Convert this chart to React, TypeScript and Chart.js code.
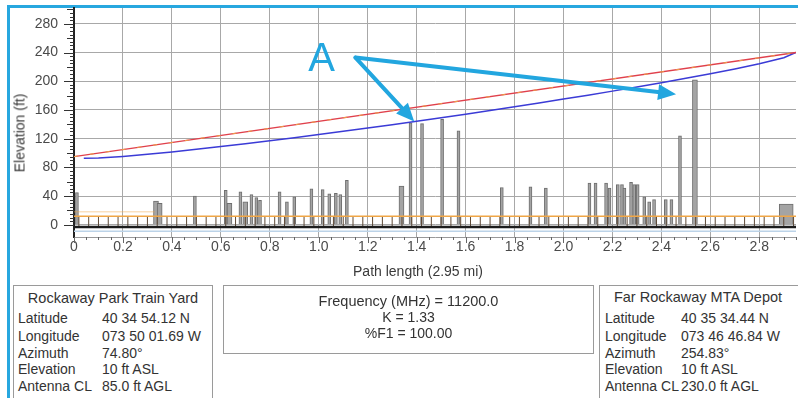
import React, { useEffect, useRef } from 'react';
import { Chart, registerables } from 'chart.js';
Chart.register(...registerables);

const FONT = '"Liberation Sans", Arial, Helvetica, sans-serif';

// axis ticks
const xTickValues = [0, 0.2, 0.4, 0.6, 0.8, 1.0, 1.2, 1.4, 1.6, 1.8, 2.0, 2.2, 2.4, 2.6, 2.8];
const yTickValues = [0, 20, 40, 60, 80, 100, 120, 140, 160, 180, 200, 220, 240, 260, 280, 300];
const yLabelValues = [0, 40, 80, 120, 160, 200, 240, 280];

// line of sight (ft)
const losX = [0, 2.95];
const losY = [95, 240];

// first Fresnel zone lower edge (ft)
const fresnelX = [0.04, 0.1, 0.2, 0.3, 0.4, 0.5, 0.6, 0.7, 0.8, 0.9, 1.0, 1.1, 1.2, 1.3, 1.4, 1.5, 1.6, 1.7, 1.8, 1.9, 2.0, 2.1, 2.2, 2.3, 2.4, 2.5, 2.6, 2.7, 2.8, 2.9, 2.95];
const fresnelY = [92.6, 93.1, 95.3, 98.2, 101.5, 105.1, 108.9, 112.9, 117.0, 121.3, 125.7, 130.2, 134.8, 139.5, 144.2, 149.1, 154.1, 159.2, 164.4, 169.7, 175.1, 180.6, 186.2, 192.0, 197.9, 204.0, 210.4, 217.1, 224.3, 232.7, 240];

// ground, clutter
const groundX = [0, 2.95];
const groundY = [-3, -3];
const subGroundY = [-9, -9];
const clutterX = [0, 2.95];
const clutterY = [12, 12];
const clutterHighX = [0, 0.33];
const clutterHighY = [18, 18];

// buildings (mi, ft)
const thinBldX = [0.012, 0.494, 0.62, 0.68, 0.725, 0.745, 0.76, 0.84, 0.87, 0.9, 0.97, 1.016, 1.043, 1.07, 1.088, 1.115, 1.375, 1.422, 1.504, 1.571, 1.748, 1.865, 1.928, 2.106, 2.131, 2.174, 2.188, 2.222, 2.239, 2.249, 2.276, 2.289, 2.303, 2.33, 2.35, 2.37, 2.418, 2.441, 2.476];
const thinBldY = [45, 40, 48, 46, 42, 38, 34, 46, 32, 39, 50, 49, 43, 44, 42, 62, 142, 141, 147, 131, 52, 53, 51, 58, 58, 58, 51, 56, 56, 51, 59, 56, 56, 39, 32, 35, 35, 35, 124];
const medBldX = [0.335, 0.35, 0.635, 0.7, 1.338, 2.537];
const medBldY = [33, 30, 30, 32, 54, 202];
const wideBldX = [2.91];
const wideBldY = [29];

// tree / clutter markers
const treeX = [0.02, 0.06, 0.10, 0.14, 0.18, 0.22, 0.26, 0.30, 0.34, 0.38, 0.42, 0.46, 0.50, 0.54, 0.58, 0.62, 0.66, 0.70, 0.74, 0.78, 0.82, 0.86, 0.90, 0.94, 0.98, 1.02, 1.06, 1.10, 1.14, 1.18, 1.22, 1.26, 1.30, 1.34, 1.38, 1.42, 1.46, 1.50, 1.54, 1.58, 1.62, 1.66, 1.70, 1.74, 1.78, 1.82, 1.86, 1.90, 1.94, 1.98, 2.02, 2.06, 2.10, 2.14, 2.18, 2.22, 2.26, 2.30, 2.34, 2.38, 2.42, 2.46, 2.50, 2.54, 2.58, 2.62, 2.66, 2.70, 2.74, 2.78, 2.82, 2.86, 2.90, 2.94];
const treeMid = 5;

// annotation "A" and arrows (data coordinates)
const annotationText = 'A';
const annotationXY = [1.012, 233];
const arrowFromXY = [1.15, 233];
const arrowToX = [1.39, 2.46];
const arrowToY = [144, 182];

const pts = (xs: number[], ys: number[]) => xs.map((x, i) => ({ x, y: ys[i] }));

const overlayPlugin = {
  id: 'overlay',
  afterDatasetsDraw(chart: any) {
    const { ctx, chartArea, scales } = chart;
    const x = scales.x;
    const y = scales.y;
    ctx.save();
    // y axis tick marks
    ctx.strokeStyle = '#333';
    ctx.lineWidth = 1;
    for (let v = 0; v <= 300; v += 5) {
      const py = Math.round(y.getPixelForValue(v)) + 0.5;
      const len = v % 40 === 0 ? 10 : v % 20 === 0 ? 7 : 4;
      ctx.beginPath();
      ctx.moveTo(chartArea.left - len, py);
      ctx.lineTo(chartArea.left, py);
      ctx.stroke();
    }
    // x axis tick marks
    ctx.strokeStyle = '#666';
    for (let i = 0; i <= 59; i++) {
      const v = i * 0.05;
      const px = Math.round(x.getPixelForValue(v)) + 0.5;
      const len = i % 4 === 0 ? 6 : 3;
      ctx.beginPath();
      ctx.moveTo(px, chartArea.bottom);
      ctx.lineTo(px, chartArea.bottom + len);
      ctx.stroke();
    }
    // arrows
    const blue = '#22a6df';
    const fx = x.getPixelForValue(arrowFromXY[0]);
    const fy = y.getPixelForValue(arrowFromXY[1]);
    ctx.strokeStyle = blue;
    ctx.fillStyle = blue;
    ctx.lineWidth = 4;
    ctx.lineCap = 'round';
    arrowToX.forEach((tv, i) => {
      const tx = x.getPixelForValue(tv);
      const ty = y.getPixelForValue(arrowToY[i]);
      const ang = Math.atan2(ty - fy, tx - fx);
      const headLen = 18;
      const headW = 8;
      const bx = tx - Math.cos(ang) * headLen;
      const by = ty - Math.sin(ang) * headLen;
      ctx.beginPath();
      ctx.moveTo(fx, fy);
      ctx.lineTo(bx + Math.cos(ang) * 2, by + Math.sin(ang) * 2);
      ctx.stroke();
      ctx.beginPath();
      ctx.moveTo(tx, ty);
      ctx.lineTo(bx + Math.cos(ang + Math.PI / 2) * headW, by + Math.sin(ang + Math.PI / 2) * headW);
      ctx.lineTo(bx - Math.cos(ang + Math.PI / 2) * headW, by - Math.sin(ang + Math.PI / 2) * headW);
      ctx.closePath();
      ctx.fill();
    });
    // label A
    ctx.font = '40px ' + FONT;
    ctx.textAlign = 'center';
    ctx.textBaseline = 'middle';
    ctx.fillText(annotationText, x.getPixelForValue(annotationXY[0]), y.getPixelForValue(annotationXY[1]) + 2);
    ctx.restore();
  },
};

export default function App() {
  const ref = useRef<HTMLCanvasElement>(null);
  useEffect(() => {
    const lineDs = (data: any, color: string, width: number, order: number, extra: any = {}) => ({
      type: 'line',
      data,
      borderColor: color,
      borderWidth: width,
      pointRadius: 0,
      fill: false,
      tension: 0,
      order,
      ...extra,
    });
    const barDs = (data: any, thick: number) => ({
      type: 'bar',
      data,
      barThickness: thick,
      backgroundColor: '#a4a4a4',
      borderColor: '#6e6e6e',
      borderWidth: 1,
      grouped: false,
      order: 6,
    });
    const chart = new Chart(ref.current as HTMLCanvasElement, {
      type: 'line',
      data: {
        datasets: [
          lineDs(pts(losX, losY), '#eda048', 1, 0, { borderDash: [4, 12] }),
          lineDs(pts(losX, losY), '#e0404c', 1.3, 1),
          lineDs(pts(fresnelX, fresnelY), '#3b3bd6', 1.5, 1),
          lineDs(pts(groundX, groundY), '#1c1c1c', 2.5, 2),
          lineDs(pts(groundX, subGroundY), '#bcd3e8', 1.5, 2),
          lineDs(pts(clutterX, clutterY), '#f0a646', 1.5, 3),
          lineDs(pts(clutterHighX, clutterHighY), 'rgba(240,166,70,0.35)', 1.5, 3),
          {
            type: 'line',
            data: treeX.map((x) => ({ x, y: treeMid })),
            showLine: false,
            pointStyle: 'line',
            pointRotation: 90,
            pointRadius: 5,
            pointBorderColor: '#5e4a38',
            pointBorderWidth: 1,
            pointBackgroundColor: '#5e4a38',
            order: 4,
          },
          barDs(pts(thinBldX, thinBldY), 3),
          barDs(pts(medBldX, medBldY), 5),
          barDs(pts(wideBldX, wideBldY), 14),
        ] as any,
      },
      options: {
        responsive: false,
        animation: false,
        events: [],
        layout: { padding: { top: 8, right: 1, left: 0, bottom: 0 } },
        plugins: { legend: { display: false }, tooltip: { enabled: false } },
        scales: {
          x: {
            type: 'linear',
            min: 0,
            max: 2.95,
            offset: false,
            afterBuildTicks: (s: any) => {
              s.ticks = xTickValues.map((v) => ({ value: v }));
            },
            afterFit: (s: any) => {
              s.height = 45;
              s.paddingLeft = 0;
              s.paddingRight = 0;
            },
            ticks: {
              autoSkip: false,
              maxRotation: 0,
              padding: 2,
              color: '#4a4a4a',
              font: { family: FONT, size: 14 },
              callback: (v: any) => (Number(v) === 0 ? '0' : Number(v).toFixed(1)),
            },
            grid: { color: '#a8a8a8', lineWidth: 1, drawTicks: false, offset: false },
            border: { color: '#999999', width: 1 },
          },
          y: {
            type: 'linear',
            min: -17,
            max: 302,
            afterBuildTicks: (s: any) => {
              s.ticks = yTickValues.map((v) => ({ value: v }));
            },
            afterFit: (s: any) => {
              s.width = 74;
              s.paddingTop = 0;
              s.paddingBottom = 0;
            },
            ticks: {
              padding: 16,
              color: '#4a4a4a',
              font: { family: FONT, size: 14 },
              callback: (v: any) => (yLabelValues.includes(Number(v)) ? String(v) : ''),
            },
            grid: { color: '#a8a8a8', lineWidth: 1, drawTicks: false },
            border: { color: '#222222', width: 2 },
          },
        },
      },
      plugins: [overlayPlugin],
    } as any);
    return () => chart.destroy();
  }, []);

  const txt: React.CSSProperties = {
    position: 'absolute',
    whiteSpace: 'nowrap',
    lineHeight: '17px',
    fontSize: 14,
    color: '#333',
  };
  const rows = (labels: string[], values: string[], lx: number, vx: number, ys: number[]) =>
    labels.map((l, i) => (
      <React.Fragment key={l}>
        <div style={{ ...txt, left: lx, top: ys[i] - 8.5 }}>{l}</div>
        <div style={{ ...txt, left: vx, top: ys[i] - 8.5 }}>{values[i]}</div>
      </React.Fragment>
    ));
  const rowY = [318, 336, 353, 369, 386];
  const labels = ['Latitude', 'Longitude', 'Azimuth', 'Elevation', 'Antenna CL'];

  return (
    <div
      style={{
        position: 'fixed',
        left: 0,
        top: 0,
        width: 798,
        height: 398,
        overflow: 'hidden',
        background: '#fff',
        fontFamily: FONT,
      }}
    >
      <div
        style={{
          position: 'absolute',
          left: 7,
          top: 5,
          width: 900,
          height: 500,
          borderTop: '3px solid #27a7df',
          borderLeft: '3px solid #27a7df',
        }}
      />
      <canvas ref={ref} width={802} height={282} style={{ position: 'absolute', left: 0, top: 0 }} />
      <div style={{ ...txt, fontSize: 14, color: '#3a3a3a', left: 418, top: 271, transform: 'translate(-50%,-50%)' }}>
        Path length (2.95 mi)
      </div>
      <div
        style={{
          ...txt,
          fontSize: 14,
          color: '#3a3a3a',
          left: 20,
          top: 133,
          transform: 'translate(-50%,-50%) rotate(-90deg)',
        }}
      >
        Elevation (ft)
      </div>

      <div style={{ position: 'absolute', left: 13, top: 285, width: 198, height: 140, border: '1px solid #9a9a9a' }} />
      <div style={{ ...txt, fontSize: 14.5, left: 13, width: 200, textAlign: 'center', top: 298 - 8.5 }}>Rockaway Park Train Yard</div>
      {rows(labels, ['40 34 54.12 N', '073 50 01.69 W', '74.80°', '10 ft ASL', '85.0 ft AGL'], 18, 102, rowY)}

      <div style={{ position: 'absolute', left: 223, top: 285, width: 369, height: 67, border: '1px solid #9a9a9a' }} />
      <div style={{ ...txt, fontSize: 14.5, left: 223, width: 371, textAlign: 'center', top: 301 - 8.5 }}>Frequency (MHz) = 11200.0</div>
      <div style={{ ...txt, left: 223, width: 371, textAlign: 'center', top: 317 - 8.5 }}>K = 1.33</div>
      <div style={{ ...txt, left: 223, width: 371, textAlign: 'center', top: 333 - 8.5 }}>%F1 = 100.00</div>

      <div style={{ position: 'absolute', left: 599, top: 285, width: 300, height: 140, border: '1px solid #9a9a9a' }} />
      <div style={{ ...txt, fontSize: 14.5, left: 599, width: 198, textAlign: 'center', top: 297 - 8.5 }}>Far Rockaway MTA Depot</div>
      {rows(labels, ['40 35 34.44 N', '073 46 46.84 W', '254.83°', '10 ft ASL', '230.0 ft AGL'], 605, 681, rowY)}
    </div>
  );
}
